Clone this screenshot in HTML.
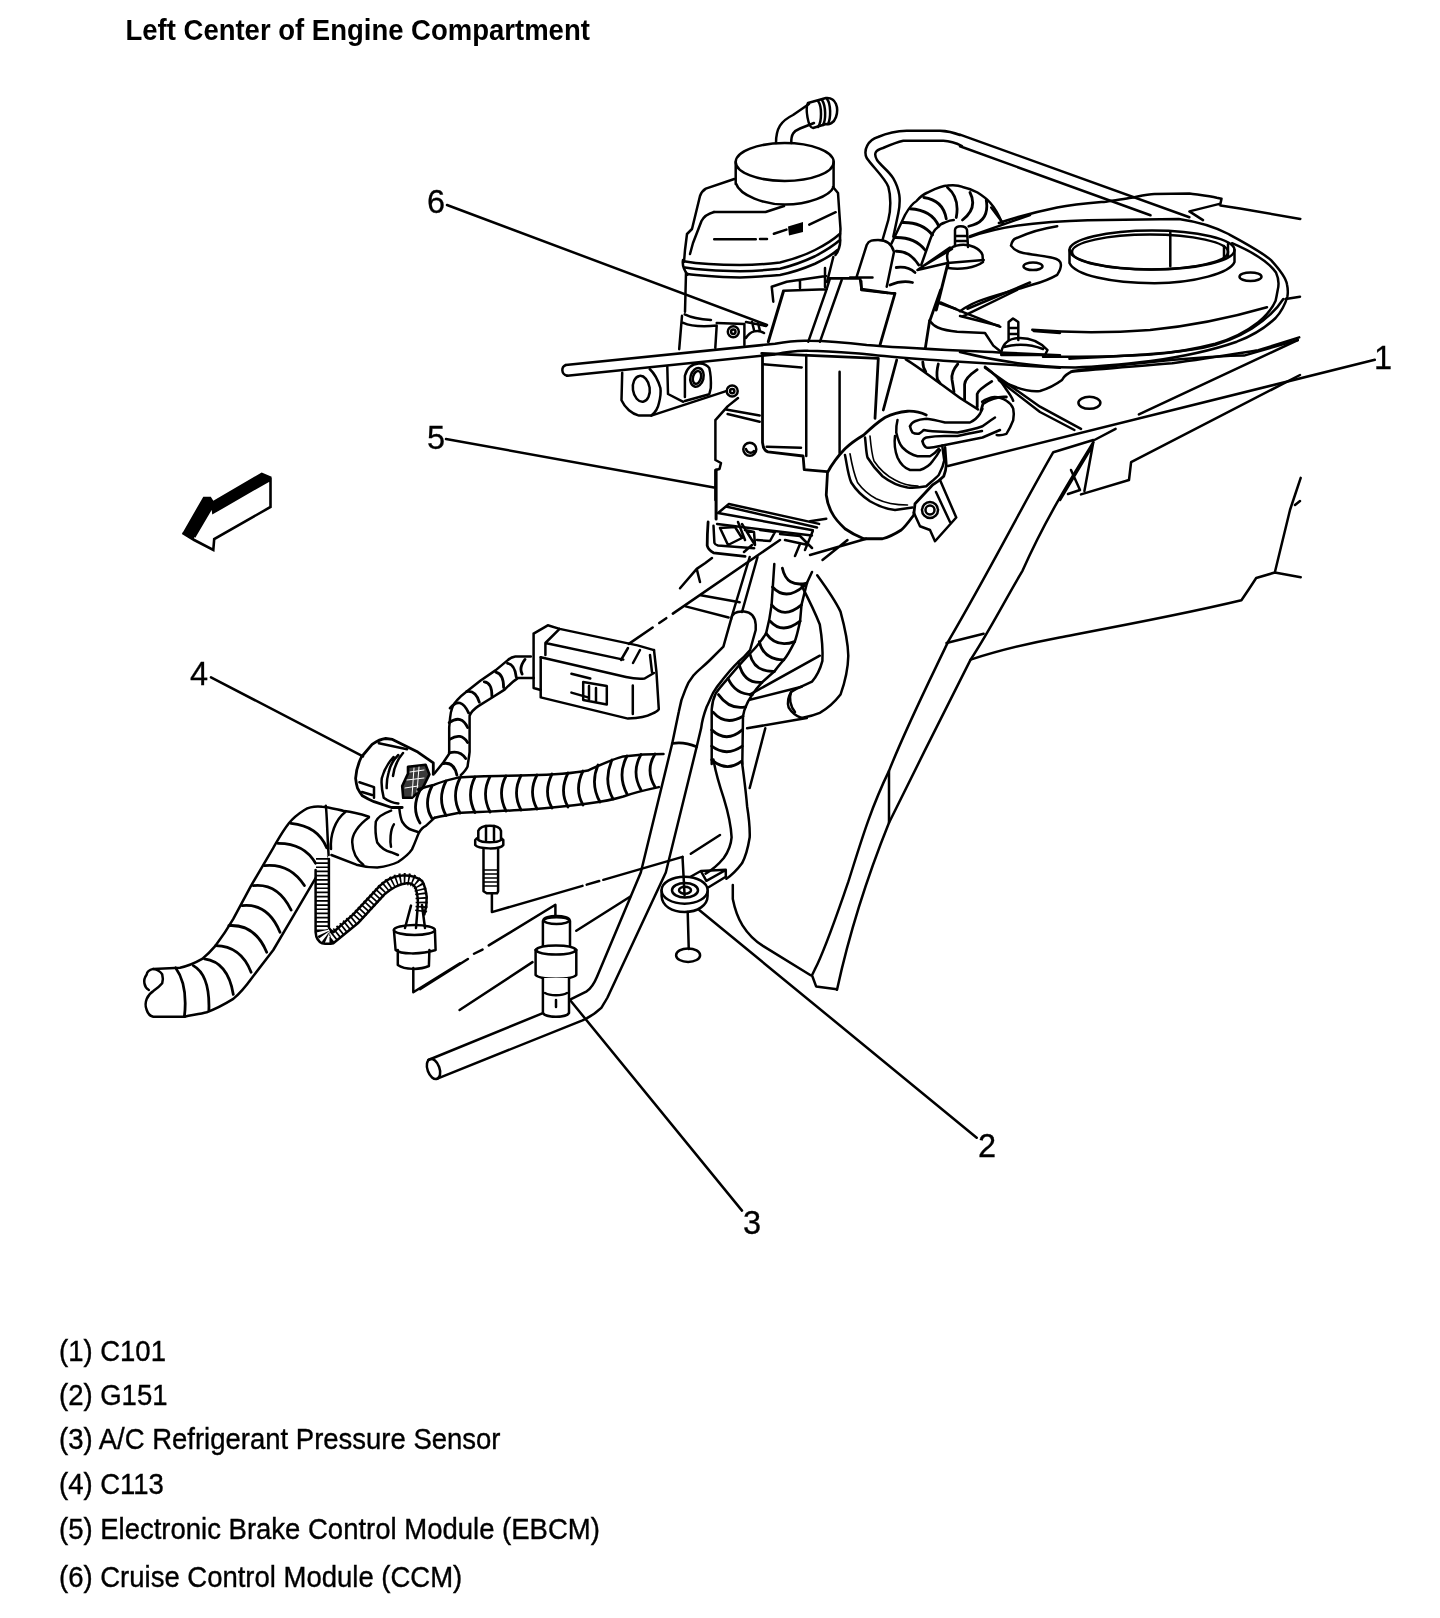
<!DOCTYPE html>
<html><head><meta charset="utf-8"><title>Left Center of Engine Compartment</title>
<style>
html,body{margin:0;padding:0;background:#fff;}
body{width:1440px;height:1618px;overflow:hidden;}
svg{display:block;filter:grayscale(1);}
text{font-family:"Liberation Sans",sans-serif;fill:#000;}
.t{font-weight:bold;font-size:27.5px;}
.l{font-size:27.5px;stroke:#000;stroke-width:0.35px;}
.n{font-size:32.5px;stroke:#000;stroke-width:0.3px;}
.d{fill:none;stroke:#000;stroke-width:2.5;stroke-linejoin:round;stroke-linecap:round;}
.w{fill:#fff;stroke:#000;stroke-width:2.5;stroke-linejoin:round;stroke-linecap:round;}
.k{fill:#000;stroke:none;}
</style></head>
<body>
<svg width="1440" height="1618" viewBox="0 0 1440 1618">
<text class="t" transform="translate(125.5,40) scale(1,1.04)">Left Center of Engine Compartment</text>

<!-- DRAWING -->
<g id="drawing">
<!-- direction arrow -->
<path class="k" d="M182.5,532.9 L203.3,496.7 L210.8,496.7 L213.3,500.8 L261.7,472.5 L271.7,476.7 L270,480 L213.3,512.5 L212.5,505.8 L194.2,536.7 L194.2,540 Z"/>
<path d="M194.2,537 L212.5,506 L213.3,512.5 L270.5,479.5 L270.5,507 L214.2,539 L213.3,550 L194.2,540 L182.5,532.9" style="fill:none;stroke:#000;stroke-width:2.6;stroke-linejoin:miter"/>
<!-- reservoir -->
<g class="d">
<ellipse cx="784.7" cy="162" rx="49" ry="19"/>
<path d="M735.7,162 V184 M833.6,162 V187 M735.7,183 C740,196 765,204.6 785,204.6 C808,204.6 830,196 833.6,187"/>
<path d="M776,143 C776,128 781,121 793,115 L809,104 M791.3,143 C791,134 794,131 800,128.5 L814,123"/>
<path d="M808,103 L826,98 C836,97 839,108 836,117 C834,123 829,125 826,124 L813,128 C808,128 805,108 808,103 Z"/>
<path d="M818,101 C822,106 822,122 818,127 M822,100 C826,106 826,120 823,125 M827,99 C831,104 831,118 828,124"/>
<path d="M734.3,179 L705.8,188.6 C702,191 701,193 700,196 L692,229 L687,234 L685,250 L684,262"/>
<path d="M714,212 C707,214 703,218 701.5,221 L693,243 L690,254"/>
<path d="M714,212 L765.6,212 L784,206"/>
<path d="M833,187 L838,193 L839.5,215 L840.5,229 L840,238"/>
<path d="M683.75,261.25 C700,264 720,265 740,265 C755,265 768,264 780,262.5 C795,259 805,255 815,250 C825,245 833,240 840,233.75"/>
<path d="M685,267.5 C700,270 720,271 740,271.25 C755,271 768,270 780,268.75 C795,265 805,261 815,256.25 C825,251 833,246 840,240"/>
<path d="M686.25,273.75 C700,276 720,277 740,277.5 C755,277 768,276 780,275 C795,272 805,268 815,263.75 C825,259 832,255 837.5,250"/>
<path d="M683,260 C682,265 684,270 687.5,274.8 M840,238 C841,245 838,252 835.4,255"/>
<path d="M714.2,239.3 H755.8 M760,238.9 H767 M773.9,233.75 L786.4,229.6 M809.3,224.7 L835.7,212.2"/>
<path class="k" d="M788,226.5 L803,222 L803,232 L789,235.5 Z"/>
<path d="M686,272.8 L685,311.7 M684.7,314.4 C690,317 697,319 711,320"/>
<path d="M682,315.8 L679.2,349.2 M683.3,322.8 C690,326 700,327 716.7,325.6 M716.7,325.6 L715.3,347.8"/>
<path d="M716.7,323 L744.4,324 L744.4,345 M746,338 C750,331 758,329 764,333 M746,322 L766,326 M752,322 L754,330 M758,323 L760,331"/>
<circle cx="733.3" cy="331.8" r="5.5"/><circle cx="733.3" cy="331.8" r="2.2"/>
<path d="M833.3,257 L827,282"/>
</g>
<!-- brake tube loop + harness top -->
<g class="d">
<path d="M882.5,240 L888.3,220 C891,210 891,196 888.3,186.7 C885,178 872,166 866.7,158 C863,150 868,140 878,137 C890,132 900,131 906.7,130.8 L940,130.8 C948,131 955,133 960,135 L960,134.6 L1189.4,217.2"/>
<path d="M893.3,236.7 L898.3,213.3 C901,200 900,190 893.3,178.3 C888,170 881,166 877,160 C873,153 876,150 883,148 C890,145 898,142 903.3,140.8 L943.3,140.8 C950,141 956,143 962,146 L960,146.25 L1150.5,215.3"/>
<path d="M856.7,276.7 L866.7,245 C869,240 873,240 878,240 C886,240 892,244 894,252 L886.7,286.7"/>
<path d="M891.25,244 L905,215 C909,208 913,203 916.25,201.25 C920,197 924,194 927.5,192.5 C935,189 941,186 947.5,185.6 C953,185 958,185 962.5,186.9 C968,188 973,190 977.5,192.5 C983,196 987,199 990,202.5 C994,207 998,213 1001.9,222.5"/>
<path d="M921.25,265 L930,240 C932,234 934,230 937.5,227.5 C940,224 943,223 945,222.5 C948,221 951,220 953.75,220"/>
<path d="M896.25,251.25 Q910,251 918.75,265 M895,237.5 Q915,237 925,250 M902.5,222.5 Q922,222 932.5,235 M910,208.75 Q932,210 938.75,226.25 M923.75,197.5 Q943,200 946.25,218.75 M947.5,187.5 Q960,198 956.25,217.5 M970,192.5 Q978,208 962.5,220 M986.25,200 Q990,222 968.75,226.25" style="stroke-width:2.8"/>
<path d="M896.25,267.5 Q908,266 915,272.5 M890,285 Q902,280 912.5,282.5" style="stroke-width:2.8"/>
<path d="M850,277.5 L872.5,277.5 M861.25,281.25 L861.25,290 L887.5,293"/>
<path d="M917.5,270 L947.5,263 L983.75,260 M917.5,270 L950,247.5 M925,265 L952,249"/>
<path d="M947.5,265 L936.25,310" style="stroke-width:3"/>
<path d="M948,262 C945,252 950,246 960,245 C970,244 980,248 982.5,255 L983,262 C975,268 960,270 948,268 Z"/>
<path d="M955,246 L955,230 C955,225 966,225 967,230 L968,247 M956,236 H967 M956,241 H967"/>
<path d="M970,236.25 L1030,215 M991.25,207.5 L1002.5,222.5"/>
<path d="M937.5,302.5 L956,309 M967.5,308.75 L1030,282.5"/>
</g>
<!-- strut tower -->
<g class="d">
<path d="M998.9,223 C1020,216 1040,211 1057.2,207.5 C1075,204 1090,203 1105.8,201.7 C1115,200 1125,199 1131,197.8 C1140,196 1148,194 1154.4,193.9 L1189.4,193.5 C1200,195 1210,196 1216.7,197.8 L1221.5,198.7 L1220.5,203.6 L1189.4,211.4 L1203,220.1 M1220.5,205.6 L1240,208.5 L1300.3,218.9"/>
<path d="M969.7,237 C990,230 1010,226 1033,223.75 C1060,221 1085,220 1105.8,220 L1178.8,218.9 C1200,222 1215,227 1227.4,233.5 C1245,243 1262,252 1271,260.2 C1280,270 1286,278 1287,284.5 C1288,289 1288,293 1287.4,296.5 C1285,305 1281,312 1275.6,318 C1265,328 1252,336 1236.8,341.7 C1210,351 1180,357 1150.7,361 C1125,364 1100,366.5 1075.3,367.5 C1040,367 1000,362 960,352"/>
<path d="M1232,243.2 C1255,253 1270,264 1276,272.4 C1279,279 1279,285 1277.7,290 C1277,294 1276.5,297 1275.6,300.8 C1272,309 1266,316 1258.3,322.3 C1246,332 1232,339 1215.3,343.8 C1195,349 1172,353 1150.7,354.6 C1115,357 1080,357 1043,356.7"/>
<path d="M1011,245.6 C1012,241 1014,239 1016,238.3 C1030,232 1045,228 1057.2,226.2 M1011,245.6 C1014,250 1018,252 1023.2,253 C1035,255 1045,256 1052.4,257.8 C1058,259 1061,262 1060.9,265 C1061,269 1059,272 1057.2,274.8 C1050,279 1042,282 1033,284.5 C1015,290 1000,294 984.3,299.1 C975,302 967,306 960,311.3"/>
<ellipse cx="1152" cy="250" rx="82.5" ry="19.5"/>
<ellipse cx="1150" cy="252" rx="78" ry="17.5"/>
<path d="M1069.5,250 L1069.5,263 C1075,275 1110,283 1154.5,283.3 C1195,283 1230,273 1234.5,262 L1234.5,250"/>
<path d="M1170.3,232.3 L1170.3,266.3 M1224,246 V258 M1228,244 V256"/>
<ellipse cx="1033" cy="266.3" rx="9.5" ry="3.8"/><ellipse cx="1250.5" cy="276.7" rx="11" ry="4.3"/>
<path d="M1032.3,329.8 C1070,333 1110,333 1150,330 C1200,325 1240,315 1267,307.2"/>
<path d="M1069.4,358.7 C1120,356 1170,354 1203,347.7 C1240,340 1270,320 1283.3,299 M1285.7,299 L1300,296.7"/>
<path d="M1071,371.8 C1100,369 1140,366 1172.2,363.2 C1205,359 1235,354 1258.3,350.3 L1299.2,337.4"/>
<path d="M960,316 L998.9,325.8"/>
<path d="M1008.6,340 L1008.6,322 L1013,318.5 L1018.3,322 L1018.3,340 M1008.6,328 H1018.3 M1008.6,334 H1018.3"/>
<path d="M1001.3,352 C1003,343 1010,338 1020,338 C1030,338 1040,342 1047.5,350 L1045,355 L1001.3,355 Z M1004,347 C1015,344 1030,344 1043,349"/>
</g>
<!-- fender panel right -->
<g class="d">
<path d="M1000,380 C1015,388 1030,392 1040,391 C1050,388 1058,383 1062,380 M1062,380 C1064,376 1068,373 1073,371 C1130,364 1200,356 1244,355.6 L1297.8,340"/>
<path d="M985,367.8 L1040,406.7 L1081,428.9 M998.9,380.3 L1040,412 L1074.4,430"/>
<ellipse cx="1089.4" cy="402.8" rx="11" ry="6"/>
<path d="M1297.8,340 L1138.9,414.4"/>
<path d="M1115.6,428.9 L1094.4,440"/>
<path d="M1300,375 L1131.1,462.2 L1129,480 L1081,494.4"/>
<path d="M1053.3,452.2 L1093.3,440 M1053.3,452.2 C1020,510 990,570 948.4,641.1 C925,690 905,730 889,770.9 C870,810 860,845 848.2,882.2 C835,920 825,950 814.7,969.7 L812,975.3 L816.1,986.4 L836.9,989.2"/>
<path d="M1093.3,442.2 C1070,480 1045,520 1022.6,570.6 C1005,600 990,630 970.6,659.6 C945,710 915,770 889,822.8 C870,870 850,930 837,989.8"/>
<path d="M1093.3,442.2 L1084.4,491 M1092,446.7 L1060,500 M1071,470 L1080,490 L1068,494"/>
<path d="M946.5,643 L983.6,633.7 M970.6,659.6 C1000,650 1030,643 1059.6,637.4 C1120,626 1180,615 1241.4,600.3 L1249,589 L1256.2,578 L1274.8,572.5 L1300.7,577.3 M1274.8,572.5 L1290,510 L1295,495 L1300.7,477.9 M1295,505 L1300,501"/>
<path d="M889,771 L889,822.8 M732.8,885 L732.8,898.9 C735,910 738,918 742.5,925.3 C748,934 755,941 763.3,946.1 L810.6,975.3"/>
</g>
<!-- C101 connector -->
<g class="d">
<path d="M945,447.5 L946.25,465 C946,470 945,473 943.75,476.25 C940,480 936,483 932.5,485 L915,503.75 L913.75,515 C910,520 906,526 901.25,530 C895,534 889,537 882.5,538.75 L863.75,538.75 C857,536 851,533 845,528.75 C839,523 835,519 832.5,513.75 C829,508 827,501 826.25,495 L827.5,472.5 C832,464 838,456 845,448.75 C851,443 857,439 863.75,435 C871,428 878,422 885,417.5 C892,414 899,412 907.5,411.25 C914,411 920,412 926.25,415" style="stroke-width:2.8"/>
<path d="M865,437.5 C866,445 866,452 867.5,457.5 C872,465 877,471 882.5,476.25 C890,482 898,486 907.5,487.5 C914,488 920,487.5 926.25,486.25 C931,482 935,479 938.75,475 C942,469 944,463 945,457.5"/>
<path d="M870,436 C871,447 872,455 874,461 C880,470 887,476 895,480 C902,484 910,486 918,486" style="stroke-width:1.6"/>
<path d="M895,436 C894,444 895,451 897.5,457.5 C900,463 904,468 910,470 L920,470 C926,468 930,465 932.5,461.25 C936,457 938,454 940,450"/>
<path d="M897.5,420 C896.5,424 896,428 896.25,432.5 C898,440 900,445 902.5,447.5 C907,452 912,455 917.5,456.25 L930,456.25 C934,454 937,451 938.75,448.75"/>
<path d="M845,455 C847,465 848,475 851.25,482.5 C856,490 862,496 870,501.25 C878,506 886,509 895,510 L912.5,507.5"/>
<path d="M850,453.75 C852,465 854,474 857.5,482.5 C863,490 869,495 876.25,498.75 C885,503 895,505 907.5,505" style="stroke-width:1.6"/>
<path d="M910,426.25 C911,424 913,422 915,421.25 C919,419.5 923,419 926.25,418.75 C933,419.5 939,421 945,422.5 L970,422.5 C975,420 978,417 980,413.75 L982.5,408.75"/>
<path d="M910,426.25 C910.5,429 911.5,431 912.5,432.5 C914,433.5 916,434 918.75,433.75 C920.5,433 922,431.5 923.75,430 C926,430.5 929,431 932.5,431.25 L957.5,432.5 C966,431 975,429 982.5,426.25 C987,423 991,420 995,417.5"/>
<path d="M922.5,441.25 C923,439.5 924.5,438 926.25,437.5 C932,436.5 938,436 944,436 L957.5,436 C966,434 974,432.5 982,431"/>
<path d="M922.5,441.25 C923,444 924.5,446.5 926.25,447.5 C930,448 934,447.5 938.75,446.25 L957.5,442.5 L982.5,437.5 L1000,430"/>
<path d="M942.2,445.6 L944.2,460"/>
<path d="M982.1,401.8 C986,399 990,397.5 994.7,397 C999,397 1003,398.5 1006.4,400.8 C1010,403 1012,405.5 1013.2,408.6 C1014,412 1014,416 1013.2,420.3 C1011,426 1009,430 1006.4,433.9 C1003,435 1000,435.5 996.7,434.9"/>
<path d="M940,480 L956.25,517.5 L935,541.25 L930,530 L920,526.25 L913.75,512.5"/>
<circle cx="930" cy="510" r="8"/><circle cx="930" cy="510" r="4.5"/><path d="M936,492 L950,522"/>

<path d="M810,521.25 L826.25,518.75 M822.5,560 L847.5,540 M810,555 L866.25,538.75"/>
</g>
<!-- EBCM connector -->
<g class="d">
<path d="M716.1,470 L716.1,518.9" style="stroke-width:3"/>
<path d="M728.9,504 L819.1,523.9 M727.1,506.7 L817,527.5 M718,513 L812.8,530.2 M717.1,523.9 L811.9,535.6 M728.9,504 L718,513"/>
<path d="M708.1,522 C707.5,530 707.2,538 707.2,545.5 C708,549 710,551 713.5,552.8 L745.1,556.4" style="stroke-width:2.8"/>
<path d="M713.5,525.7 L714.4,542.8 C715,544.5 716,545 718,545.5 L754.2,548.2"/>
<path d="M720,528 L735,527 L742,538 L728,545 Z M738,522 L745,540 M742,524 L755,545 L754,532 L745,530 M760,530 L775,532 L770,541 L757,540 M780,534 L800,536 L812,548 M785,540 L808,545"/>
<path d="M744,552 L752,545 M812.8,531.1 L805,550 M800,544 L795,556"/>
<path d="M696.7,568.9 L705,563.3 L712,558 M680,588.3 L696.7,568.9 L700,582 M700.8,595.3 L739.7,602.2 M685.6,606.4 L728.6,617.5"/>
<path d="M780,540 L628.8,643.9" style="stroke-dasharray:130 8 8.5 8 30 400"/>
</g>
<!-- harness bundle down -->
<g class="d">
<path d="M749.7,557 L731.6,617 M757.5,557 L742,612"/>
<path d="M731.2,618.9 L723.4,646.7 C718,652 714,656 710,660 C703,667 697,671 693.4,675.6 C689,681 687,685 685.6,689 C682,697 680,704 678.9,711.2 L672.2,743.5 L640.8,872.5 L597,976.7 C594,984 590,989 586.7,991.3 L570,999.6 M542.9,1013.1 L428.3,1060"/>
<path d="M731.2,618.9 C732,613 737,611 744,611.5 C751,612 755,616 755.7,624.5 L755.7,630 L750.1,650 C746,655 742,659 737.9,662.3 C732,668 727,674 722.3,680.1 C719,684 716,688 713.4,692.3 C711,697 709,702 706.7,706.8 C704,714 702,721 701.2,727.9 L696.7,746.8 L665.8,872.5 L607.5,997.5 C605,1002 603,1005 601.3,1007.9 C596,1013 590,1017 582.5,1020.4 L436.7,1078.8"/>
<path d="M672.2,743.5 C680,742 690,744 696.7,746.8" style="stroke-width:2.8"/>
<path d="M774.3,564.1 L771.6,604.9 C770,618 768,626 766.1,633.4 C760,643 754,650 748.4,655.1 C740,664 734,671 728,678.3 C722,685 718,690 715.8,693.2 C713,699 712,704 711.7,709.5 L711.7,763.9"/>
<path d="M812,572 L806.9,583.1 L801.5,604.9 L800.1,621.2 C798,630 797,636 794.7,641.6 C791,649 788,655 783.8,659.9 C780,664 777,668 774.3,671.5 C770,675 766,679 762,682.3 C755,690 749,698 745.7,706.8 C744,710 743.5,713 743,716.3 L742.3,763.9"/>
<path d="M711.7,759.8 Q726.7,772.7 741.7,761.2 M711.7,746.2 Q726.4,757.2 742.3,746.2 M711.7,729.9 Q726.4,743.5 742.3,729.9 M713.1,712.2 Q725.4,726.5 743.0,716.3 M718.5,694.6 Q729.5,710.1 745.7,706.8 M728.0,678.3 Q735.0,694.5 752.5,694.6 M738.9,663.3 Q743.8,683.8 762.0,682.3 M749.8,653.8 Q754.0,672.1 774.3,671.5 M759.3,641.6 Q763.5,659.5 783.8,659.9 M766.1,633.4 Q776.4,648.3 794.7,641.6 M770.2,621.2 Q782.4,634.8 800.1,621.2 M771.6,604.9 Q783.7,619.7 801.5,604.9 M772.5,587.0 Q785.8,601.5 804.0,586.0 M782.4,568.2 Q786.6,587.8 806.9,583.1" style="stroke-width:2.8"/>
<path d="M713.4,759.5 C716,775 720,787 723.8,798.4 C728,812 731,825 731.6,837.3 C731,845 728,852 723.8,858 C718,865 712,870 705.6,873.6"/>
<path d="M742,762 C744,778 746,792 747.1,806.2 C749,818 750,828 749.7,837.3 C748,848 746,856 742,863.3 C737,870 732,875 726.4,878.8"/>
<path d="M817.2,575.2 C828,590 835,600 840.5,611.6 C845,628 848,642 848.3,655.7 C848,670 845,682 840.5,694.6 C834,703 827,709 819.8,712.8 C812,716 806,717 801.6,718"/>
<path d="M801.6,585.6 C809,600 815,612 819.8,624.5 C822,638 823,650 822.4,660.9 C820,670 817,676 812,681.6 C805,685 797,688 791.2,692 C788,697 787,702 788.7,707.6 C792,713 796,716 801.6,718"/>
<path d="M819.8,655.7 L749.7,694.6 M801.6,686.8 L749.7,699.8 M806.8,718 L747.1,728.3 M765.3,728.3 L749.7,788"/>
<path d="M791,692 C789,698 790,706 795,712"/>
</g>
<!-- G151 ground -->
<g class="d">
<path d="M688.3,878 L700.8,871 L725.8,869.7 L725.8,876.7 L707.8,887.8 M700.8,871 L706.4,880.8 L725.8,870 M690.8,853.75 L720,835"/>
<path class="w" d="M661.6,890.2 L661.6,896 C662,906 672,912 684.6,912 C698,912 707.6,905 707.6,896 L707.6,890.2"/>
<ellipse class="w" cx="684.6" cy="890.2" rx="23" ry="13.5"/>
<ellipse cx="685" cy="890.2" rx="13" ry="7.3"/>
<ellipse cx="685" cy="890.2" rx="6" ry="3.5"/>
<path d="M687.7,912 L688.75,949 M682.5,856.9 L684.6,895.4"/>
<ellipse cx="688.1" cy="955.2" rx="12" ry="6.8"/>
</g>
<!-- bolt, pressure sensor, pipe end -->
<g class="d">
<path d="M491.9,893.3 L491.9,912.1 L682.5,856.9" style="stroke-dasharray:113.1 4.4 13 4.3 300"/>
<path class="w" d="M483.5,849.6 L483.5,891.3 L486.7,893.3 L497,893.3 L498.1,891.3 L498.1,849.6"/>
<path d="M484,870 H498 M484,874 H498 M484,878 H498 M484,882 H498 M484,886 H498" style="stroke-width:1.6"/>
<path class="w" d="M475.2,840 L475.2,845 C478,849 500,850 503.3,845 L503.3,840 C500,835 478,835 475.2,840 Z"/>
<path class="w" d="M478.3,830.8 L478.3,840 C482,843 497,843 501,840 L501,830.8 C499,824 481,824 478.3,830.8 Z"/>
<path d="M486,826 L486,840 M494,826 L494,840"/>
<path d="M420,989.2 L467.9,959 M474,953.75 L482.5,949.6 M488.75,945.4 L555.4,904.8 L555.4,918.3 M459.6,1010 L532.5,962.1 M576.3,930.8 L630.4,896.5"/>
<path class="w" d="M542.9,921 L542.9,948 L570,948 L570,921 C568,916 545,916 542.9,921 Z"/>
<ellipse cx="556.5" cy="920" rx="13" ry="4"/>
<path class="w" d="M535.6,950 L535.6,975 C540,980 572,980 576.3,975 L576.3,950 C572,944 540,944 535.6,950 Z"/>
<path d="M535.6,950 C540,956 572,956 576.3,950"/>
<path class="w" d="M542.9,978 L542.9,1013 C546,1018 566,1018 569,1013 L569,978"/>
<path d="M545,993 C550,996 562,996 567,993 M556,1000 L556,1007"/>
<ellipse cx="433.5" cy="1069" rx="6" ry="10.5" transform="rotate(-20 433.5 1069)"/>
</g>
<!-- unplugged connector -->
<g class="d">
<path d="M540.7,657.2 L540.7,697.4 L628,718.6 C640,718 648,716 651.7,713.9 C656,712 658,711 658.8,709.2 L656.4,671.4 L654,650.1" style="stroke-width:2.5"/>
<path d="M540.7,657.2 L626,677 C635,679 640,679 644.6,678.5 L654,673 M533.6,633.6 L547.8,625.3 L559.6,628.9 L637.5,645.4 L654,650.1 M533.6,633.6 L533.6,688 L540.7,690"/>
<path d="M545.4,643 L623.3,659.6 M559.6,628.9 L545.4,643 L545.4,655 M628,648 L621,660 M640,650 L633,663 M650,655 L652,672"/>
<path d="M583.2,682 L606.8,686 L606.8,704.5 L583.2,700 Z M589,686 L589,700 M596,688 L596,702"/>
<path d="M571.4,673.8 L590.3,678.5 M571.4,692.6 L588,697.4 M632.8,685.6 L632.8,713.9"/>

</g>
<!-- small harness to connector -->
<g class="d">
<path d="M530.8,656.5 L515.3,656.5 C512,657 510,658 507.5,660.4 L495.8,670.1 L480.3,680.8 L466.7,691.5 C462,695 459,698 456.9,700.3 C454,703 453,705 452.1,708.1 C451,711 450.5,714 450.1,717.8 L449.2,727.5 L449.2,753.7 C447,757 445,760 443.3,762.5 L434.6,773.2"/>
<path d="M533.7,677.9 L518.2,677.9 C512,682 508,686 504.6,689.6 L491,698.3 L478.3,706.1 C474,709 471,712 469.6,715.8 L469.6,751.8 C469,758 468,762 467.6,766.4 C466,770 463,773 460.8,775.1"/>
<path d="M450.1,708.1 Q460.6,695.5 468.6,712.9 M449.2,722.6 Q461.6,714.0 467.6,727.5 M450.1,739.2 Q460.9,732.1 467.6,742.5 M449.2,752.8 Q460.3,749.9 465.7,758.6 M443.3,763.5 Q454.1,761.5 456.9,775.1 M466.7,691.5 Q475.8,690.1 479.3,702.2 M484.2,681.8 Q492.0,682.3 491.9,696.4 M495.8,672.1 Q503.7,674.1 503.6,687.6 M507.5,663.3 Q514.7,664.3 516.2,676.9 M525.0,659.4 Q518.7,667.7 522.1,674.0" style="stroke-width:2.8"/>
</g>
<!-- C113 -->
<g class="d">
<path d="M361.4,757 L372.1,744.3 C377,741 381,739 385.7,738.5 L392.5,739.4 L417.8,752.1 L433.3,762.8 L433.3,774.4 M361.4,757 C358,764 356,771 355.6,778.3 C356,782 356.5,785 357.5,788.1 C359,791 360.5,793.5 362.4,795.8 C366,798 370,800 374,801.7 L391.5,807.5 L402.2,807.5" style="stroke-width:2.8"/>
<path d="M378.9,743.3 L407.1,749.2 M393.5,757 C388,763 384,770 381.8,778.3 C381,785 382,791 383.7,797.8 C388,801 393,803 398.3,803.6 M398.3,755 C393,760 390,766 388.6,772.5 C387,778 386.5,783 386.7,788.1 M403,753 C397,760 394,768 393,776"/>
<path d="M408,766.7 L425.6,764.7 L429.4,774.4 L422.6,788.1 L412,797.8 L403.2,797.8 L402.2,786.1 L408,773.5 Z" style="stroke-width:2.6;fill:#3a3a3a"/>
<path d="M410,772 L424,770 M407,780 L424,778 M405,788 L418,786 M414,768 L412,796 M419,767 L417,792" style="stroke-width:1;stroke:#fff"/>
<path d="M359.4,782.2 L374,787.1 L374,797.8 M362,792 L372,795"/>
</g>
<!-- main harness left -->
<g class="d">
<path d="M663.5,754 C650,754 635,755 623.3,756.4 C610,760 598,766 587.9,770.6 C570,774 550,775 528.9,775.3 C505,776 480,776 458,777.6 C448,780 440,782 434.5,784.7 C428,786 422,788 417.9,789.5"/>
<path d="M658.8,787.1 C645,790 633,793 623.3,796.5 C612,800 600,802 587.9,803.6 C570,806 550,808 528.9,809.5 C505,811 480,812 458,813.1 C448,815 440,816 434.5,817.8"/>
<path d="M655,754 Q645,770 655,787 M641,754.5 Q631,772 641,790 M627,756 Q617,775 627,794 M612,760 Q603,780 613,799 M598,765 Q590,784 600,802 M583,771 Q574,789 583,805 M568,773 Q559,791 568,807 M552,774 Q543,792 552,808 M537,775 Q528,792 537,809 M521,775.5 Q512,793 521,810 M506,776 Q497,793 506,811 M490,776.5 Q481,794 490,812 M475,777 Q466,795 475,812.5 M460,778 Q451,796 460,813 M446,781 Q437,799 446,815.5 M432,786 Q423,804 432,818.5 M420,790 Q411,808 420,823" style="stroke-width:2.8"/>
</g>
<!-- big harness lower-left -->
<g class="d">
<path d="M368.9,816.7 C360,814 352,812 344.4,811.1 C335,809 328,807 322.2,806.7 C315,806 309,807 304.4,810 C298,814 293,818 288.9,823.3 C282,832 278,840 273.3,847.8 L251.1,885.6 L233.3,918.9 C228,928 222,937 215.6,945.6 C211,951 207,955 202.2,958.9 C195,963 188,966 180,967.8 L153.3,968.9"/>
<path d="M153.3,968.9 C158,970 161,972 162.2,974.4 C163,977 163,980 162.2,983.3 C160,986 157,988.5 153.3,991.1 C150,993 148,996 146.7,998.9 C145,1003 145.5,1007 146.7,1010 C148,1014 150,1016 153.3,1016.7 L184.4,1016.7 M153.3,968.9 C149,970 147,972 146.7,974.4 C144,978 144,981 144.4,983.3 C145,987 147,989 148.9,990"/>
<path d="M184.4,1016.7 C192,1015 200,1014 206.7,1012.2 C216,1009 225,1004 233.3,998.9 C240,993 246,986 251.1,978.9 L273.3,950 L295.6,912.2 L317.8,874.4 C322,868 325,862 326.7,856.7"/>
<path d="M291.1,823.3 Q318,826 326.7,847.8 M277.8,843.3 Q304,843 315.6,863.3 M264.4,865.6 Q290,863 304.4,885.6 M253.3,885.6 Q278,883 291.1,910 M242.2,905.6 Q268,903 280,932.2 M228.9,925.6 Q255,924 266.7,952.2 M215.6,945.6 Q241,946 251.1,972.2 M204.4,958.9 Q228,962 233.3,994.4 M193.3,965.6 Q210,975 208.9,1010 M175.6,967.8 Q188,985 184.4,1016.7" style="stroke-width:2.8"/>
<path d="M331.4,855 L356.4,864.7 C363,866.5 370,867.5 377.2,867.5 C385,866.5 392,865 398,862 C404,858 409,854 412,849.4 C415,843 417,837 418.9,832.8 C421,829 423,827 425.8,825.8 L434.5,817.8"/>
<path d="M325.8,805.7 C327,815 327,830 328.6,855 M345.3,812 C335,820 330,835 331,849 M368.9,817.5 C358,825 352,835 352.2,842 C352.5,852 357,860 363.3,864.7 M391.1,810.6 C382,814 377,818 375.8,821.7 C375,830 376,838 377.2,842.5 C381,848 386,851 391,852.2 L398,855 M393.9,824.4 C390,830 390,842 391,846.7 M399.4,809 C400,815 401,819 402.2,821.7 C405,826 408,829 412,830 L418,832"/>
</g>
<!-- coil cord + small connector -->
<g class="d">
<path d="M322,858 L322,930 C323,936 327,939 331,938 L356,918 L382,890 C390,882 398,879 404,879 C412,879 418,882 420,888 C422,895 422,905 421,914" style="stroke:#fff;stroke-width:11"/>
<path d="M315.6,870 L315.6,932.2 C316,938 319,942 322.2,943.3 C326,944 330,944 333.3,943.3 L357.8,923.3 L384.4,894.4 C392,888 399,884 406.7,883.3 C411,883 414,885 415.6,887.8 C417,893 418,897 417.8,901.1"/>
<path d="M328.9,858.9 L328.9,927.8 C330,930 331,931 333.3,932.2 L353.3,914.4 L380,885.6 C387,879 394,876 402.2,875.6 C410,875 417,877 422.2,881.1 C425,886 426,891 426.7,896.7 C427,903 426,909 424.4,914.4"/>
<path d="M322,858 L322,930 C323,936 327,939 331,938 L356,918 L382,890 C390,882 398,879 404,879 C412,879 418,882 420,888 C422,895 422,905 421,912" style="stroke-width:12;stroke-dasharray:1.7 2.5;stroke-linecap:butt"/>
<path d="M411,905.6 L405,928 M418,903 L416,928 M422,905 L425,928"/>
<ellipse cx="414.4" cy="930" rx="20.5" ry="5"/>
<path d="M393.9,930 L395.6,950 C400,954 420,955 435.6,950 L434.9,930 M397.8,950 L397.8,965 C405,970 420,970 428.9,966 L429.4,950 M413.3,968 L413.3,992.2 L460,963.3"/>
</g>
<!-- tower harness to C101 + CCM bracket foot -->
<g class="d">
<path d="M940.6,290 L929.4,322 L925.3,348.3" style="stroke-width:2.8"/>
<path d="M929.4,320.6 C932,324 934,326 937.8,327.5 C944,330 950,331 957.2,331.7 L985,333 L993.3,345.6 L1000,351"/>
<path d="M940.6,302.5 L960,310.8 L1000.3,326.8 M962.8,316.4 L1017,290 M1033.6,331 L1060,333"/>
<path d="M905.8,359.4 C920,368 932,378 943.3,385.8 C955,395 967,403 978,409.4"/>
<path d="M985,366.8 C995,374 1001,381 1005.4,388.2 C1009,393 1012,397 1013.2,400.8"/>
<path d="M922.8,362 Q923,368 925.7,371.7 M938.3,364 Q936,373 937.5,379.5 L940,383 M957.8,364 Q951,372 952,379.5 L954,392 M977.2,369.7 Q965,378 964.6,384.3 L964.6,400 M991.8,381.4 Q978,390 977.2,394 L977.2,407 M1006.4,397 Q995,396 983,403.7 L981,410.6" style="stroke-width:2.8"/>

</g>
<!-- CCM module -->
<g class="d">
<path d="M783.3,291.7 L768.3,341.7" style="stroke-width:3"/>
<path d="M783.3,290.8 L826.7,289.2 M826.7,289.2 L808.3,341.7"/>
<path d="M830,278.3 L860,278.3 L861.7,289.2 L891.7,293.3 L895,293.3 L880,345" style="stroke-width:2.8"/>
<path d="M830,278.3 L826.7,289 M841.7,280 L820,341.7"/>
<path d="M771.7,286.7 L786.7,281.7 L826,276 M771.7,286.7 L773.3,301.7 M800,280 V288 M825,268 V287"/>

</g>
<!-- rod -->
<g class="d">
<path d="M565.7,365.1 L775,343.75 C790,341 800,340.5 808.3,340.8 C830,341 850,343 866.7,345 C900,348 950,350 998.9,352.5 L1060,355.3"/>
<path d="M567.2,375.8 L775,354.4 C790,351 800,350.5 808.3,350.8 C830,351 850,353 866.7,354.2 C890,357 920,359 943.3,360.8 L1060,367.8"/>
<path d="M565.7,365.1 C561,367 561,374 567.2,375.8"/>
</g>
<!-- reservoir lugs -->
<g class="d">
<path d="M622.2,372.8 L621.5,400.3 C625,408 632,414 639,415.6 L651.3,415.6 C656,412 658,408 658.9,403.3 C661,395 661,392 660.4,388 C658,380 654,373 649.7,369"/>
<ellipse cx="641.3" cy="388.8" rx="8.4" ry="13" transform="rotate(-8 641.3 388.8)"/>
<path d="M667.3,366.7 L668,394 L683.3,401.8 M684.9,397 L684.9,375.8 C687,368 692,364 698.6,363.6 C704,363 708,366 709.3,368.2 C711,375 711,384 710.8,388 L709.3,394.2 L684.9,401"/>
<ellipse cx="697" cy="377.4" rx="6.5" ry="9.5" transform="rotate(15 697 377.4)"/><ellipse cx="697" cy="377.4" rx="4" ry="6.5" transform="rotate(15 697 377.4)"/>
<path d="M651.3,415.6 L726.1,391.1"/>
<circle cx="732.2" cy="391.1" r="5.5"/><circle cx="732.2" cy="391.1" r="2.2"/>
<path d="M715.4,420.1 L715.4,460 L721,463 L719.5,469 L715.4,470 L715.4,500 M715.4,420.1 L727.6,406.4 L738,398 M726,409.5 L759.7,415.6 M727.6,414 L759.7,421.7"/>
</g>
<!-- EBCM -->
<g class="d">
<path d="M762.5,355 L762.5,442.5 C763,448 765,451 768,451.9 L803.1,456 L804.2,469.6 L827,471.7 M761.7,353.3 L878.3,358.3 L875,418.3" style="stroke-width:2.8"/>
<path d="M806.25,355 V456 M839.6,371.7 V453 M766.7,446.7 L801,447.7 M763.3,364.2 L801.7,367.5"/>
<path d="M896.7,360 L883.3,410" style="stroke-width:2.8"/>
<circle cx="749.8" cy="449.2" r="6.5"/><path d="M746,449 C747,453 752,454 754,451"/>
</g>
</g>
</g>
</g>

<!-- CALLOUTS -->
<g id="callouts">
<path class="d" d="M447,205 L767,325 M446,439 L714,487.4 M1374.8,359.8 L948,466 M211,677.3 L363,756.4 M570,1000 L742,1210.6 M699.2,910 L976.7,1137.7"/>
<text class="n" x="427" y="212.5">6</text>
<text class="n" x="427" y="448.5">5</text>
<text class="n" x="190" y="685">4</text>
<text class="n" x="1374" y="368.8">1</text>
<text class="n" x="978" y="1157">2</text>
<text class="n" x="743" y="1234">3</text>
</g>

<g id="legend">
<text class="l" transform="translate(59,1361) scale(1,1.08)">(1) C101</text>
<text class="l" transform="translate(59,1405) scale(1,1.08)">(2) G151</text>
<text class="l" transform="translate(59,1449) scale(1,1.08)">(3) A/C Refrigerant Pressure Sensor</text>
<text class="l" transform="translate(59,1494) scale(1,1.08)">(4) C113</text>
<text class="l" transform="translate(59,1539) scale(1,1.08)">(5) Electronic Brake Control Module (EBCM)</text>
<text class="l" transform="translate(59,1587) scale(1,1.08)">(6) Cruise Control Module (CCM)</text>
</g>
</svg>
</body></html>
